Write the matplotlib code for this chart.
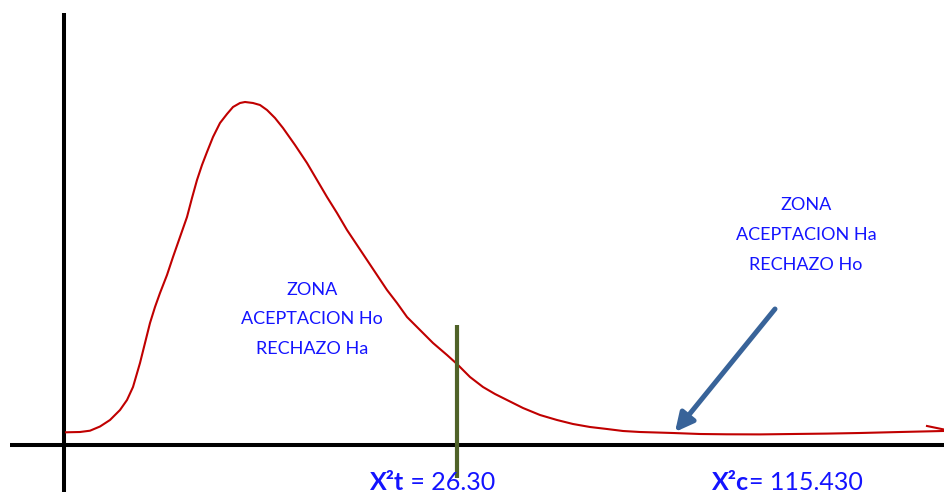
import matplotlib
matplotlib.use("Agg")
import matplotlib.pyplot as plt

# hand drawn chi-square sketch, coords in sketch units (origin = axes crossing)

curve_x = [2, 16, 26, 36, 46, 56, 63, 69, 76, 81,
           86, 91, 96, 103, 109, 116, 123, 128, 133, 138,
           143, 149, 156, 163, 169, 176, 181, 189, 196, 203,
           211, 219, 231, 243, 253, 263, 273, 283, 293, 303,
           313, 323, 333, 343, 356, 369, 383, 393, 406, 419,
           431, 443, 459, 476, 493, 509, 526, 543, 559, 576,
           609, 636, 663, 696, 729, 763, 796, 836, 879]
curve_y = [12.7, 13, 14.3, 18.5, 25, 35, 45, 58, 82, 102,
           122, 138, 152, 170, 188, 208, 228, 247, 265, 280,
           293, 308, 322, 331, 338, 342, 343, 342, 340, 335,
           327, 317, 300, 282, 265, 248, 232, 215, 200, 185,
           170, 155, 142, 128, 115, 102, 90, 81, 68, 58,
           51, 45, 37, 30, 25, 21, 18, 16, 14, 13,
           12, 11, 10.7, 10.6, 11, 11.4, 12, 13, 14]
hook_x = [863, 879]
hook_y = [19, 15.7]

crit_x = 393
crit_y = [-33, 120]

arrow_tail = (711, 136)
arrow_tip = (611, 13)

left_zone = ["ZONA", "ACEPTACION Ho", "RECHAZO Ha"]
right_zone = ["ZONA", "ACEPTACION Ha", "RECHAZO Ho"]
chi_labels = [("X²t", " = 26.30"), ("X²c", "= 115.430")]

RED = "#c00000"
BLUE_TXT = "#1414ff"
GREEN = "#4f6228"
ARROW = "#386399"

plt.rcParams["font.family"] = ["Lato", "DejaVu Sans"]

fig = plt.figure(figsize=(9.44, 4.95), dpi=100)
ax = fig.add_axes([0, 0, 1, 1])
ax.set_xlim(-64, 880)
ax.set_ylim(-50, 445)
ax.axis("off")

# axes lines
ax.plot([-54, 880], [0, 0], color="black", lw=2.9, solid_capstyle="butt")
ax.plot([0, 0], [-47, 432], color="black", lw=2.9, solid_capstyle="butt")

# density curve
ax.plot(curve_x, curve_y, color=RED, lw=1.5, solid_joinstyle="round")
ax.plot(hook_x, hook_y, color=RED, lw=1.5)

# critical value line
ax.plot([crit_x, crit_x], crit_y, color=GREEN, lw=3.0, solid_capstyle="butt")

ax.annotate("", xy=arrow_tip, xytext=arrow_tail,
            arrowprops=dict(arrowstyle="-|>,head_length=1.1,head_width=0.55",
                            lw=3.6, color=ARROW, shrinkA=0, shrinkB=0))

for i, s in enumerate(left_zone):
    ax.text(248, 155 - i * 29.5, s, color=BLUE_TXT, fontsize=13,
            ha="center", va="center")
for i, s in enumerate(right_zone):
    ax.text(742, 240 - i * 30, s, color=BLUE_TXT, fontsize=13,
            ha="center", va="center")

for (bold, rest), x0 in zip(chi_labels, [306, 648]):
    t = ax.text(x0, -45, bold, color=BLUE_TXT, fontsize=18, fontweight="bold",
                ha="left", va="baseline")
    ax.annotate(rest, xy=(1, 0), xycoords=t, color=BLUE_TXT, fontsize=18,
                ha="left", va="bottom")

fig.savefig("out.png", dpi=100)
